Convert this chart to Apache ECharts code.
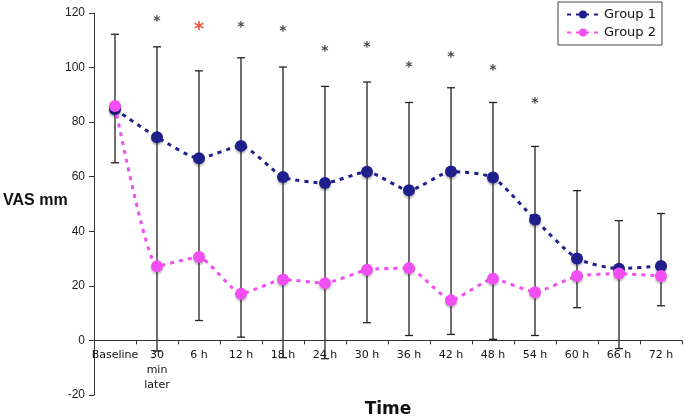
<!DOCTYPE html>
<html>
<head>
<meta charset="utf-8">
<title>VAS mm over time</title>
<script src="https://cdn.jsdelivr.net/npm/echarts@6/dist/echarts.min.js"></script>
<style>
  body { margin: 0; padding: 0; background: #fff; }
  #chart { width: 685px; height: 418px; }
</style>
</head>
<body>
<div id="chart"></div>
<script>
// values
var categories = ['Baseline', '30\nmin\nlater', '6 h', '12 h', '18 h', '24 h', '30 h', '36 h', '42 h', '48 h', '54 h', '60 h', '66 h', '72 h'];
var group1 = [84.7, 74.5, 66.8, 71.3, 59.9, 57.7, 61.8, 55.0, 61.9, 59.7, 44.3, 30.0, 26.3, 27.3];
var group2 = [85.9, 27.2, 30.6, 17.1, 22.3, 21.0, 25.9, 26.5, 14.7, 22.6, 17.7, 23.6, 24.5, 23.6];
// one error bar per time point: top above group 1, bottom below group 2
var barTop = [112.2, 107.6, 98.8, 103.6, 100.2, 93.1, 94.7, 87.2, 92.6, 87.2, 71.1, 54.9, 43.9, 46.5];
var barBottom = [65.1, -3.9, 7.3, 1.2, -6.3, -6.7, 6.5, 1.8, 2.2, 0.4, 1.8, 12.0, -3.0, 12.7];
// significance stars
var starValues = [null, 117.4, 115.2, 115.2, 113.5, 106.4, 107.9, 100.3, 104.0, 99.5, 87.2, null, null, null];
var redStarIndex = 2;

var yMin = -20, yMax = 120;
var gridTop = 13, gridBottom = 23, chartH = 418;

var errData = [];
for (var i = 0; i < categories.length; i++) {
    errData.push([i, barTop[i], barBottom[i]]);
}
var starData = [];
for (var j = 0; j < starValues.length; j++) {
    if (starValues[j] == null) continue;
    var red = j === redStarIndex;
    starData.push({
        value: [j, starValues[j]],
        label: {
            color: red ? '#e8321e' : '#111',
            fontSize: red ? 20 : 14,
            offset: [0, red ? 4 : 1]
        }
    });
}

// the x axis sits on y = 0, with its labels right under it
var plotH = chartH - gridTop - gridBottom;
var zeroOffset = -plotH * (0 - yMin) / (yMax - yMin);

var chart = echarts.init(document.getElementById('chart'));
chart.setOption({
    animation: false,
    textStyle: { fontFamily: 'DejaVu Sans' },
    grid: { left: 94, right: 3, top: gridTop, bottom: gridBottom, outerBoundsMode: 'none', containLabel: false },
    graphic: [{
        type: 'text',
        left: 3,
        top: 193,
        style: { text: 'VAS mm', font: 'bold 16px "Liberation Sans"', fill: '#111' }
    }],
    legend: {
        data: ['Group 1', 'Group 2'],
        orient: 'vertical',
        right: 23,
        top: 2,
        itemWidth: 32,
        itemHeight: 10,
        itemGap: 5,
        padding: [6, 6, 6, 8],
        borderColor: '#444',
        borderWidth: 1,
        backgroundColor: '#fff',
        textStyle: { fontSize: 13, color: '#111', fontFamily: 'DejaVu Sans' }
    },
    xAxis: {
        type: 'category',
        data: categories,
        offset: zeroOffset,
        name: 'Time',
        nameLocation: 'middle',
        nameGap: 61,
        nameTextStyle: { fontSize: 17, fontWeight: 'bold', color: '#111', fontFamily: 'DejaVu Sans' },
        axisLine: { onZero: false, lineStyle: { color: '#333', width: 1 } },
        axisTick: { show: true, length: 4, lineStyle: { color: '#333' } },
        axisLabel: { fontSize: 11, color: '#111', lineHeight: 15, margin: 7, interval: 0 },
        splitLine: { show: false }
    },
    yAxis: {
        type: 'value',
        min: yMin,
        max: yMax,
        interval: 20,
        axisLine: { show: true, lineStyle: { color: '#333', width: 1 } },
        axisTick: { show: true, length: 5, lineStyle: { color: '#333' } },
        axisLabel: { fontSize: 12, color: '#222', margin: 9, fontFamily: 'Liberation Sans' },
        splitLine: { show: false }
    },
    series: [
        {
            type: 'custom',
            name: 'err',
            z: 1,
            silent: true,
            data: errData,
            renderItem: function (params, api) {
                var x = api.value(0);
                var top = api.coord([x, api.value(1)]);
                var bot = api.coord([x, api.value(2)]);
                var hw = 4;
                var style = { stroke: '#222', lineWidth: 1.3 };
                return {
                    type: 'group',
                    children: [
                        { type: 'line', shape: { x1: top[0], y1: top[1], x2: bot[0], y2: bot[1] }, style: style },
                        { type: 'line', shape: { x1: top[0] - hw, y1: top[1], x2: top[0] + hw, y2: top[1] }, style: style },
                        { type: 'line', shape: { x1: bot[0] - hw, y1: bot[1], x2: bot[0] + hw, y2: bot[1] }, style: style }
                    ]
                };
            }
        },
        {
            type: 'line',
            name: 'Group 1',
            z: 3,
            data: group1,
            smooth: 0.2,
            symbol: 'circle',
            symbolSize: 12,
            color: '#1f1f8c',
            lineStyle: { type: [4, 5], width: 3, color: '#1f1f8c' },
            itemStyle: { color: '#1f1f8c', shadowColor: 'rgba(0,0,0,0.3)', shadowBlur: 2, shadowOffsetY: 2 }
        },
        {
            type: 'line',
            name: 'Group 2',
            z: 4,
            data: group2,
            smooth: 0.15,
            symbol: 'circle',
            symbolSize: 12,
            color: '#f24ff2',
            lineStyle: { type: [4, 5], width: 3, color: '#f24ff2' },
            itemStyle: { color: '#f24ff2', shadowColor: 'rgba(0,0,0,0.25)', shadowBlur: 2, shadowOffsetY: 2 }
        },
        {
            type: 'scatter',
            name: 'stars',
            z: 5,
            silent: true,
            symbolSize: 1,
            itemStyle: { color: 'rgba(0,0,0,0)' },
            data: starData,
            label: {
                show: true,
                position: 'inside',
                formatter: '*',
                fontWeight: 'bold',
                fontFamily: 'DejaVu Sans'
            }
        }
    ]
});
</script>
</body>
</html>
